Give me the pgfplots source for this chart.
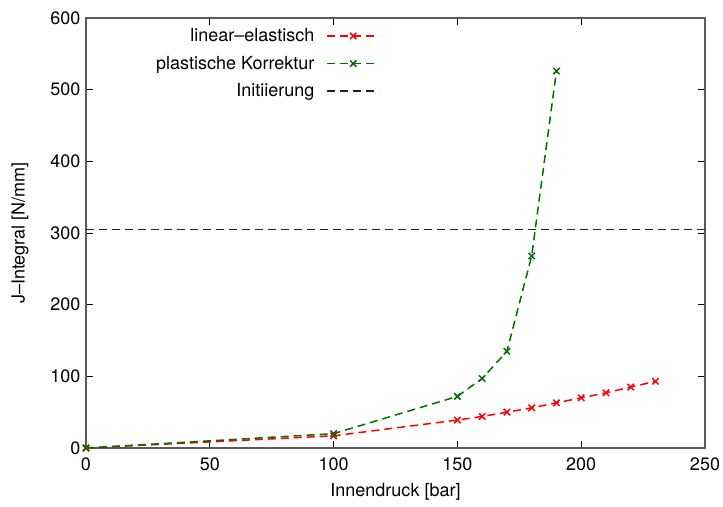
\documentclass[border=0pt]{standalone}
\usepackage{pgfplots}
\pgfplotsset{compat=1.18}
\usepackage{fontspec}
\setmainfont{TeX Gyre Heros}

\definecolor{gpred}{RGB}{255,0,0}
\definecolor{gpgreen}{RGB}{0,110,0}
\definecolor{gpgray}{RGB}{35,35,35}
\definecolor{gpaxis}{RGB}{90,90,90}

\begin{document}
\begin{tikzpicture}
\path[use as bounding box] (-86bp,-59bp) rectangle (637bp,448bp);
\begin{axis}[
  at={(0,0)}, anchor=south west,
  scale only axis,
  width=619bp, height=430bp,
  xmin=0, xmax=250, ymin=0, ymax=600,
  xtick={0,50,...,250}, ytick={0,100,...,600},
  tick align=inside,
  major tick length=7bp,
  axis line style={gpaxis, line width=1.2bp},
  every tick/.style={black, line width=0.8bp},
  /pgf/number format/assume math mode=true,
  font=\fontsize{18bp}{21bp}\selectfont,
  xlabel={Innendruck [bar]},
  ylabel={J–Integral [N/mm]},
  xlabel style={at={(axis description cs:0.5,0)}, anchor=north, yshift=-32bp},
  ylabel style={at={(axis description cs:0,0.5)}, anchor=south, yshift=54bp},
  xticklabel style={yshift=-6bp},
  yticklabel style={xshift=-2bp},
  legend plot pos=right,
  legend cell align=right,
  legend style={draw=none, fill=none, at={(axis description cs:0.105,0.985)}, anchor=north west,
    row sep=9bp, font=\fontsize{18bp}{21bp}\selectfont},
  legend image code/.code={
    \path (0bp,0bp) (64bp,0bp);
    \draw[mark repeat=2, mark phase=2] plot coordinates {(10bp,0bp) (36bp,0bp) (62bp,0bp)};
  },
  every axis plot/.append style={dash pattern=on 8bp off 5bp},
]
\addplot[gpred, line width=1.5bp, mark=x, mark size=4.5bp, mark options={solid, line width=1.5bp}]
  coordinates {(0,0) (100,17) (150,39) (160,44) (170,50) (180,56) (190,63) (200,70) (210,77) (220,85) (230,93)};
\addlegendentry{linear–elastisch}
\addplot[gpgreen, line width=1.5bp, mark=x, mark size=4.5bp, mark options={solid, line width=1.5bp}]
  coordinates {(0,0) (100,20) (150,72) (160,97) (170,135) (180,268) (190,526)};
\addlegendentry{plastische Korrektur}
\addplot[gpgray, line width=1.6bp]
  coordinates {(0,305) (250,305)};
\addlegendentry{Initiierung}
\end{axis}
\end{tikzpicture}
\end{document}
